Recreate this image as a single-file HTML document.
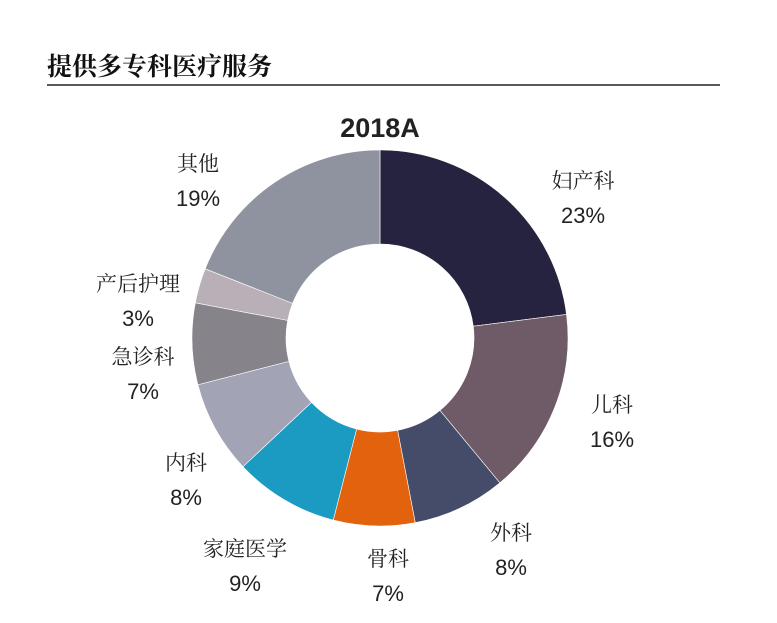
<!DOCTYPE html>
<html><head><meta charset="utf-8">
<style>
body{margin:0;background:#fff;width:777px;height:618px;overflow:hidden}
svg text{font-family:"Liberation Sans","Noto Sans CJK SC",sans-serif}
</style></head>
<body>
<svg id="c" width="777" height="618">
<text x="47" y="75" font-size="25" font-weight="bold" fill="#111" style='font-family:"Liberation Serif","Noto Serif CJK SC",serif'>提供多专科医疗服务</text>
<line x1="47" y1="85" x2="720" y2="85" stroke="#222" stroke-width="1.5"/>
<text x="380" y="137" font-size="27" font-weight="bold" text-anchor="middle" fill="#222">2018A</text>
<g id="slices"></g>
<g id="labels"></g>
</svg>
<script>
const categories=["妇产科","儿科","外科","骨科","家庭医学","内科","急诊科","产后护理","其他"];
const values=[23,16,8,7,9,8,7,3,19];
const colors=["#25233f","#6f5b67","#454c69","#e2620e","#1b9bc2","#a2a4b6","#87838b","#b8afb7","#8f939f"];
const labelPos=[[583,188],[612,412],[511,540],[388,566],[245,556],[186,470],[143,364],[138,291],[198,171]];
const cx=380,cy=338,R=188,r=94;
const ns="http://www.w3.org/2000/svg";
const total=values.reduce((a,b)=>a+b,0);
const sg=document.getElementById("slices"),lg=document.getElementById("labels");
function pt(a,rad){return [cx+rad*Math.sin(a),cy-rad*Math.cos(a)];}
let a0=0;
values.forEach((v,i)=>{
 const a1=a0+v/total*2*Math.PI;
 const [x0,y0]=pt(a0,R),[x1,y1]=pt(a1,R),[x2,y2]=pt(a1,r),[x3,y3]=pt(a0,r);
 const lf=(a1-a0)>Math.PI?1:0;
 const p=document.createElementNS(ns,"path");
 p.setAttribute("d",`M${x0},${y0}A${R},${R} 0 ${lf} 1 ${x1},${y1}L${x2},${y2}A${r},${r} 0 ${lf} 0 ${x3},${y3}Z`);
 p.setAttribute("fill",colors[i]);
 p.setAttribute("stroke","#fff");p.setAttribute("stroke-width","0.6");
 
 
 sg.appendChild(p);
 a0=a1;
 const [lx,ly]=labelPos[i];
 const t=document.createElementNS(ns,"text");
 t.setAttribute("x",lx);t.setAttribute("y",ly);t.setAttribute("font-size","21");t.setAttribute("text-anchor","middle");t.setAttribute("fill","#222");
 t.setAttribute("style",'font-family:"Liberation Serif","Noto Serif CJK SC",serif');
 t.textContent=categories[i];
 
 
 lg.appendChild(t);
 const t2=document.createElementNS(ns,"text");
 t2.setAttribute("x",lx);t2.setAttribute("y",ly+35);t2.setAttribute("font-size","22");t2.setAttribute("text-anchor","middle");t2.setAttribute("fill","#222");
 t2.textContent=v+"%";
 
 
 lg.appendChild(t2);
});
</script>
</body></html>
